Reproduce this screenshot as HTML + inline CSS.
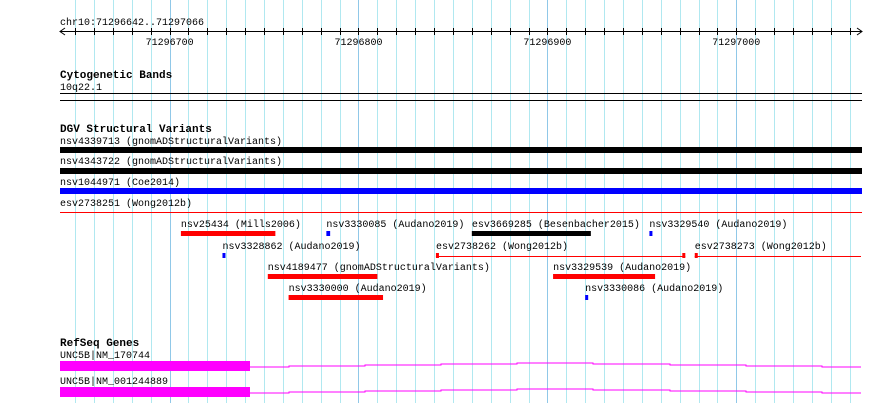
<!DOCTYPE html>
<html><head><meta charset="utf-8"><style>
body{margin:0;background:#fff}
svg{display:block;font-family:"Liberation Mono",monospace;font-size:10px}
.b{font-weight:bold;font-size:11px}
</style></head><body>
<svg id="c" width="890" height="403"></svg>
<script>
const startBp=71296642, endBp=71297066;
const tickLabels=[71296700,71296800,71296900,71297000];
const featNames=["nsv25434 (Mills2006)","nsv3330085 (Audano2019)","esv3669285 (Besenbacher2015)","nsv3329540 (Audano2019)","nsv3328862 (Audano2019)","esv2738262 (Wong2012b)","esv2738273 (Wong2012b)","nsv4189477 (gnomADStructuralVariants)","nsv3329539 (Audano2019)","nsv3330000 (Audano2019)","nsv3330086 (Audano2019)"];
const featStart=[71296706,71296783,71296860,71296954,71296728,71296841,71296978,71296752,71296903,71296763,71296920];
const featEnd=[71296756,71296785,71296923,71296955,71296729,71296973,71297066,71296810,71296957,71296813,71296921];
const featRow=[0,0,0,0,1,1,1,2,2,3,3];
const featColor=["red","blue","black","blue","blue","line","line","red","red","red","blue"];
const NS="http://www.w3.org/2000/svg";
const svg=document.getElementById('c');
const X=bp=>60+(bp-startBp)*(801/(endBp-startBp));
function el(t,a,txt){const e=document.createElementNS(NS,t);for(const k in a)e.setAttribute(k,a[k]);if(txt!=null)e.textContent=txt;svg.appendChild(e);return e;}
// grid
for(let bp=Math.ceil(startBp/10)*10;bp<=endBp;bp+=10){const x=Math.round(X(bp))+0.5;
const g=el('line',{x1:x,y1:0,x2:x,y2:403,stroke:bp%100===0?'#90c8e8':'#b0e8f0','stroke-width':1});
}
// ruler
let t=el('text',{x:60,y:25},'chr10:71296642..71297066');
let r=el('line',{x1:60,y1:31.5,x2:862,y2:31.5,stroke:'#000'});
el('path',{d:'M65,28 L60,31.5 L65,35',fill:'none',stroke:'#000'});
el('path',{d:'M857,28 L862,31.5 L857,35',fill:'none',stroke:'#000'});
for(let bp=Math.ceil(startBp/10)*10;bp<=endBp;bp+=10){const x=Math.round(X(bp))+0.5;el('line',{x1:x,y1:28,x2:x,y2:35,stroke:'#000'});}
tickLabels.forEach(v=>{const e=el('text',{x:X(v),y:45,'text-anchor':'middle'},String(v));});
// cytoband
t=el('text',{x:60,y:78,class:'b'},'Cytogenetic Bands');
el('text',{x:60,y:90},'10q22.1');
el('rect',{x:60,y:93,width:802,height:1,fill:'#000'});
el('rect',{x:60,y:100,width:802,height:1,fill:'#000'});
// DGV
t=el('text',{x:60,y:132,class:'b'},'DGV Structural Variants');
el('text',{x:60,y:144},'nsv4339713 (gnomADStructuralVariants)');
el('rect',{x:60,y:147,width:802,height:6,fill:'#000'});
el('text',{x:60,y:164},'nsv4343722 (gnomADStructuralVariants)');
el('rect',{x:60,y:168,width:802,height:6,fill:'#000'});
el('text',{x:60,y:185},'nsv1044971 (Coe2014)');
el('rect',{x:60,y:188,width:802,height:6,fill:'#00f'});
el('text',{x:60,y:206},'esv2738251 (Wong2012b)');
el('rect',{x:60,y:212,width:802,height:1,fill:'red'});
const rowY=[231,253,274,295];
featNames.forEach((n,i)=>{
 const x1=X(featStart[i]),x2=X(featEnd[i]),y=rowY[featRow[i]];
 const lab=el('text',{x:x1,y:y-4},n);
 let m;
 if(featColor[i]==='line'){
  m=el('rect',{x:x1,y:y+3,width:x2-x1,height:1,fill:'red'});
  el('rect',{x:x1,y:y,width:3,height:5,fill:'red'});
  if(featEnd[i]<endBp)el('rect',{x:x2-3,y:y,width:3,height:5,fill:'red'});
 } else m=el('rect',{x:x1,y:y,width:Math.max(3,x2-x1),height:5,fill:featColor[i]});
 
});
// RefSeq
t=el('text',{x:60,y:346,class:'b'},'RefSeq Genes');
[[358,361,'UNC5B|NM_170744'],[384,387,'UNC5B|NM_001244889']].forEach(([ly,by,n])=>{
 el('text',{x:60,y:ly},n);
 const g=el('rect',{x:60,y:by,width:190,height:10,fill:'#f0f'});
 const m=by+5;
 el('polyline',{points:`250,${m+1} 289,${m+1} 289,${m} 365,${m} 365,${m-1} 441,${m-1} 441,${m-2} 517,${m-2} 517,${m-3} 593,${m-3} 593,${m-2} 670,${m-2} 670,${m-1} 746,${m-1} 746,${m} 822,${m} 822,${m+1} 861,${m+1}`,fill:'none',stroke:'#f0f'});
});
</script>
</body></html>
